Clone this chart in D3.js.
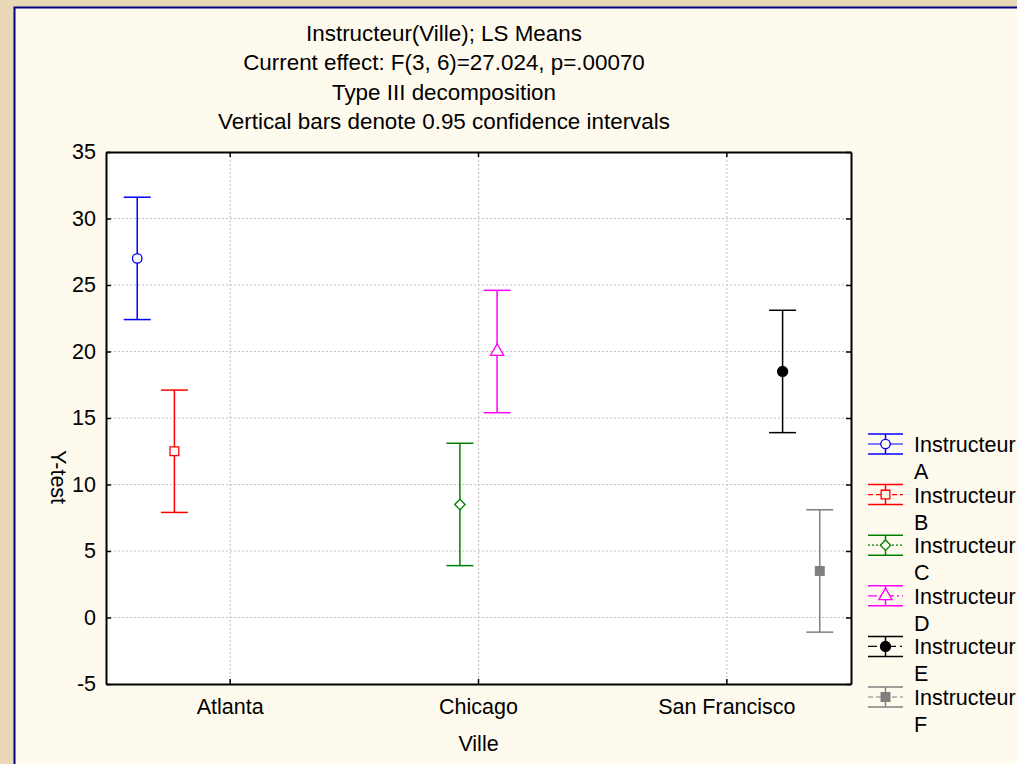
<!DOCTYPE html>
<html>
<head>
<meta charset="utf-8">
<script src="https://cdn.jsdelivr.net/npm/d3@7"></script>
<style>
  body { margin: 0; background: #ead9b6; overflow: hidden; }
  svg { display: block; font-family: "Liberation Sans", Arial, sans-serif; }
</style>
</head>
<body>
<div id="chart"></div>
<script>
// Data
var titleLines = ["Instructeur(Ville); LS Means",
                  "Current effect: F(3, 6)=27.024, p=.00070",
                  "Type III decomposition",
                  "Vertical bars denote 0.95 confidence intervals"];
var cities = ["Atlanta", "Chicago", "San Francisco"];
var instructors = ["A", "B", "C", "D", "E", "F"];
var instructorCity = ["Atlanta", "Atlanta", "Chicago", "Chicago", "San Francisco", "San Francisco"];
var means = [27, 12.5, 8.5, 20, 18.5, 3.5];
var lower = [22.4, 7.9, 3.9, 15.4, 13.9, -1.1];
var upper = [31.6, 17.1, 13.1, 24.6, 23.1, 8.1];
var yDomain = [-5, 35];

// Series styles
var colors = ["#0000ff", "#ff0000", "#008000", "#ff00ff", "#000000", "#808080"];
var symbols = [d3.symbolCircle, d3.symbolSquare, d3.symbolSquare, d3.symbolTriangle, d3.symbolCircle, d3.symbolSquare];
var symbolSize = [70, 76, 54, 76, 100, 100];
var symbolRotate = [0, 0, 45, 0, 0, 0];
var filled = [false, false, false, false, true, true];
var dashes = [null, "5,3", "2,2", "9,3,2,3", "9,4,2,4", "5,3"];

// Layout
var W = 1017, H = 764;
var plot = {left: 106, top: 152, right: 851, bottom: 684};
var cream = "#fffaee";
var fontSize = 21.5;
var titleSize = 22.4;

var svg = d3.select("#chart").append("svg")
    .attr("width", W)
    .attr("height", H);

// Frame
svg.append("rect")
    .attr("x", 14.5).attr("y", 7.5)
    .attr("width", W + 20).attr("height", H + 20)
    .attr("fill", cream)
    .attr("stroke", "#000080")
    .attr("stroke-width", 2);

// Scales
var y = d3.scaleLinear().domain(yDomain).range([plot.bottom, plot.top]);
var x0 = d3.scaleBand().domain(cities).range([plot.left, plot.right]);
var x1 = d3.scaleBand().domain(instructors).range([0, x0.bandwidth()]).paddingOuter(0.34);

function xPos(i) {
    return x0(instructorCity[i]) + x1(instructors[i]) + x1.bandwidth() / 2;
}

// Plot background
svg.append("rect")
    .attr("x", plot.left).attr("y", plot.top)
    .attr("width", plot.right - plot.left).attr("height", plot.bottom - plot.top)
    .attr("fill", "#ffffff");

// Grid
var yTicks = y.ticks(8);
svg.append("g").selectAll("line")
    .data(yTicks.filter(function(d) { return d > yDomain[0] && d < yDomain[1]; }))
    .enter().append("line")
    .attr("x1", plot.left).attr("x2", plot.right)
    .attr("y1", function(d) { return y(d); })
    .attr("y2", function(d) { return y(d); })
    .attr("stroke", "#c0c0c0")
    .attr("stroke-dasharray", "2,2");

svg.append("g").selectAll("line")
    .data(cities)
    .enter().append("line")
    .attr("x1", function(d) { return x0(d) + x0.bandwidth() / 2; })
    .attr("x2", function(d) { return x0(d) + x0.bandwidth() / 2; })
    .attr("y1", plot.top).attr("y2", plot.bottom)
    .attr("stroke", "#c0c0c0")
    .attr("stroke-dasharray", "2,2");

// Axes
function styleAxis(g) {
    g.selectAll(".domain").attr("stroke-width", 2).attr("stroke", "#000");
    g.selectAll(".tick line").attr("stroke-width", 1.5).attr("stroke", "#000");
    g.selectAll(".tick text").attr("font-size", fontSize).attr("fill", "#000")
        .attr("font-family", "'Liberation Sans', Arial, sans-serif");
}

svg.append("g")
    .attr("transform", "translate(" + plot.left + ",0)")
    .call(d3.axisLeft(y).tickValues(yTicks).tickSize(-5).tickSizeOuter(0).tickPadding(10)
        .tickFormat(function(d) { return String(d); }))
    .call(styleAxis);

svg.append("g")
    .attr("transform", "translate(" + plot.right + ",0)")
    .call(d3.axisRight(y).tickValues(yTicks).tickSize(-5).tickSizeOuter(0).tickFormat(""))
    .call(styleAxis);

svg.append("g")
    .attr("transform", "translate(0," + plot.bottom + ")")
    .call(d3.axisBottom(x0).tickSize(-5).tickSizeOuter(0).tickPadding(15))
    .call(styleAxis);

svg.append("g")
    .attr("transform", "translate(0," + plot.top + ")")
    .call(d3.axisTop(x0).tickSize(-5).tickSizeOuter(0).tickFormat(""))
    .call(styleAxis);

// Titles
svg.append("g").selectAll("text")
    .data(titleLines)
    .enter().append("text")
    .attr("x", 444)
    .attr("y", function(d, i) { return 41 + i * 29.3; })
    .attr("text-anchor", "middle")
    .attr("font-size", titleSize)
    .text(function(d) { return d; });

svg.append("text")
    .attr("x", (plot.left + plot.right) / 2)
    .attr("y", 751)
    .attr("text-anchor", "middle")
    .attr("font-size", fontSize)
    .text("Ville");

svg.append("text")
    .attr("transform", "translate(51,477) rotate(90)")
    .attr("text-anchor", "middle")
    .attr("font-size", fontSize)
    .text("Y-test");

// Error bars
var capW = 27;
var bars = svg.append("g").selectAll("g")
    .data(instructors)
    .enter().append("g");

bars.append("line")
    .attr("x1", function(d, i) { return xPos(i); })
    .attr("x2", function(d, i) { return xPos(i); })
    .attr("y1", function(d, i) { return y(lower[i]); })
    .attr("y2", function(d, i) { return y(upper[i]); })
    .attr("stroke", function(d, i) { return colors[i]; })
    .attr("stroke-width", 1.5);

bars.append("line")
    .attr("x1", function(d, i) { return xPos(i) - capW / 2; })
    .attr("x2", function(d, i) { return xPos(i) + capW / 2; })
    .attr("y1", function(d, i) { return y(upper[i]); })
    .attr("y2", function(d, i) { return y(upper[i]); })
    .attr("stroke", function(d, i) { return colors[i]; })
    .attr("stroke-width", 1.5);

bars.append("line")
    .attr("x1", function(d, i) { return xPos(i) - capW / 2; })
    .attr("x2", function(d, i) { return xPos(i) + capW / 2; })
    .attr("y1", function(d, i) { return y(lower[i]); })
    .attr("y2", function(d, i) { return y(lower[i]); })
    .attr("stroke", function(d, i) { return colors[i]; })
    .attr("stroke-width", 1.5);

function marker(sel, bg) {
    sel.attr("d", function(d, i) { return d3.symbol().type(symbols[i]).size(symbolSize[i])(); })
        .attr("fill", function(d, i) { return filled[i] ? colors[i] : bg; })
        .attr("stroke", function(d, i) { return colors[i]; })
        .attr("stroke-width", function(d, i) { return filled[i] ? 0 : 1.3; });
}

bars.append("path")
    .attr("transform", function(d, i) {
        return "translate(" + xPos(i) + "," + y(means[i]) + ") rotate(" + symbolRotate[i] + ")";
    })
    .call(marker, "#ffffff");

// Legend
var legend = svg.append("g").selectAll("g")
    .data(instructors)
    .enter().append("g")
    .attr("transform", function(d, i) { return "translate(868," + (444 + i * 50.6) + ")"; });

legend.append("line")
    .attr("x1", 0).attr("x2", 35).attr("y1", -10).attr("y2", -10)
    .attr("stroke", function(d, i) { return colors[i]; }).attr("stroke-width", 1.5);
legend.append("line")
    .attr("x1", 0).attr("x2", 35).attr("y1", 10).attr("y2", 10)
    .attr("stroke", function(d, i) { return colors[i]; }).attr("stroke-width", 1.5);
legend.append("line")
    .attr("x1", 17.5).attr("x2", 17.5).attr("y1", -10).attr("y2", 10)
    .attr("stroke", function(d, i) { return colors[i]; }).attr("stroke-width", 1.5);
legend.append("line")
    .attr("x1", 0).attr("x2", 35).attr("y1", 0).attr("y2", 0)
    .attr("stroke", function(d, i) { return colors[i]; })
    .attr("stroke-width", 1.2)
    .attr("stroke-dasharray", function(d, i) { return dashes[i]; });

legend.append("path")
    .attr("transform", function(d, i) { return "translate(17.5,0) rotate(" + symbolRotate[i] + ")"; })
    .call(marker, cream);

legend.append("text")
    .attr("x", 46).attr("y", 8)
    .attr("font-size", fontSize)
    .text("Instructeur");
legend.append("text")
    .attr("x", 46).attr("y", 35)
    .attr("font-size", fontSize)
    .text(function(d) { return d; });
</script>
</body>
</html>
